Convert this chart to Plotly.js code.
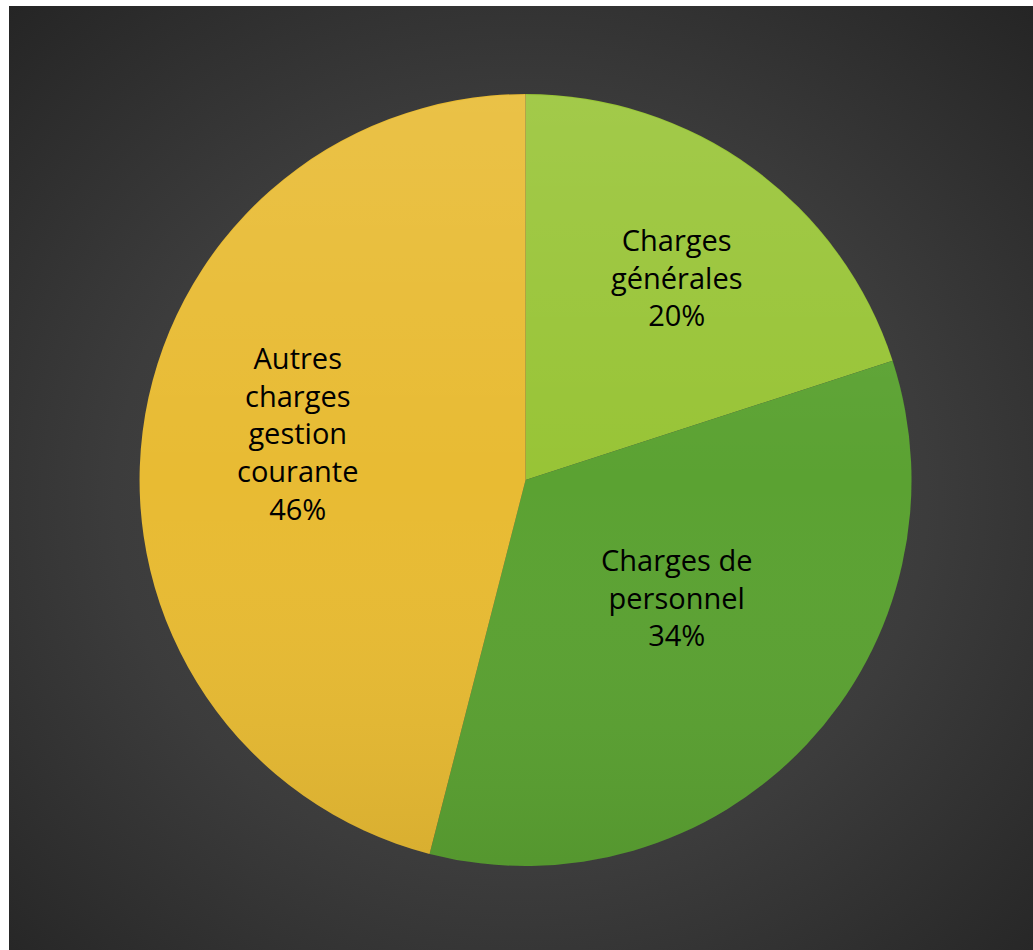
<!DOCTYPE html>
<html>
<head>
<meta charset="utf-8">
<script src="https://cdn.plot.ly/plotly-3.0.1.min.js"></script>
<style>html,body{margin:0;padding:0;background:#fff;}#chart{width:1033px;height:950px;}</style>
</head>
<body>
<div id="chart"></div>
<script>
const categories = ["Charges générales", "Charges de personnel", "Autres charges gestion courante"];
const labelLines = ["Charges<br>générales", "Charges de<br>personnel", "Autres<br>charges<br>gestion<br>courante"];
const values = [20, 34, 46];
const colors = ["#98c436", "#5ba232", "#e8bb33"];

// label anchor placement (paper fractions), one per slice
const labelX = [677/1033, 676/1033, 298/1033];
const labelY = [1 - 277/950, 1 - 597/950, 1 - 433/950];

const total = values.reduce((a, b) => a + b, 0);

const bgSvg = '<svg xmlns="http://www.w3.org/2000/svg" width="1024" height="944" viewBox="0 0 1024 944">' +
  '<defs><radialGradient id="g" cx="0.5" cy="0.52" r="0.72">' +
  '<stop offset="0" stop-color="#4c4c4c"/><stop offset="0.55" stop-color="#3c3c3c"/><stop offset="1" stop-color="#252525"/>' +
  '</radialGradient></defs><rect width="1024" height="944" fill="url(#g)"/></svg>';
const bgSrc = 'data:image/svg+xml;base64,' + btoa(bgSvg);

const shadeSvg = '<svg xmlns="http://www.w3.org/2000/svg" width="772" height="772" viewBox="0 0 772 772">' +
  '<defs><linearGradient id="s" x1="0" y1="0" x2="0" y2="1">' +
  '<stop offset="0" stop-color="#ffffff" stop-opacity="0.10"/><stop offset="0.5" stop-color="#ffffff" stop-opacity="0"/>' +
  '<stop offset="1" stop-color="#000000" stop-opacity="0.07"/>' +
  '</linearGradient></defs><circle cx="386" cy="386" r="385.5" fill="url(#s)"/></svg>';
const shadeSrc = 'data:image/svg+xml;base64,' + btoa(shadeSvg);

const data = [{
  type: 'pie',
  labels: categories,
  values: values,
  sort: false,
  direction: 'clockwise',
  rotation: 0,
  marker: {colors: colors, line: {width: 0}},
  textinfo: 'none',
  hoverinfo: 'none',
  showlegend: false,
  domain: {x: [0.1346, 0.8829], y: [0.0884, 0.901]}
}];

const annotations = labelLines.map((t, i) => ({
  text: t + '<br>' + Math.round(values[i] / total * 100) + '%',
  xref: 'paper', yref: 'paper', x: labelX[i], y: labelY[i],
  xanchor: 'center', yanchor: 'middle', align: 'center', showarrow: false,
  font: {family: '"Open Sans", sans-serif', size: 29, color: '#000000'}
}));

const layout = {
  width: 1033, height: 950,
  margin: {l: 0, r: 0, t: 0, b: 0},
  paper_bgcolor: '#ffffff',
  showlegend: false,
  annotations: annotations,
  images: [{
    source: bgSrc, xref: 'paper', yref: 'paper',
    x: 9/1033, y: 944/950, sizex: 1024/1033, sizey: 944/950,
    xanchor: 'left', yanchor: 'top', sizing: 'stretch', layer: 'below'
  }, {
    source: shadeSrc, xref: 'paper', yref: 'paper',
    x: 139.5/1033, y: 1 - 94.5/950, sizex: 772/1033, sizey: 772/950,
    xanchor: 'left', yanchor: 'top', sizing: 'stretch', layer: 'above'
  }]
};

Plotly.newPlot('chart', data, layout, {displayModeBar: false, staticPlot: true});
</script>
</body>
</html>
